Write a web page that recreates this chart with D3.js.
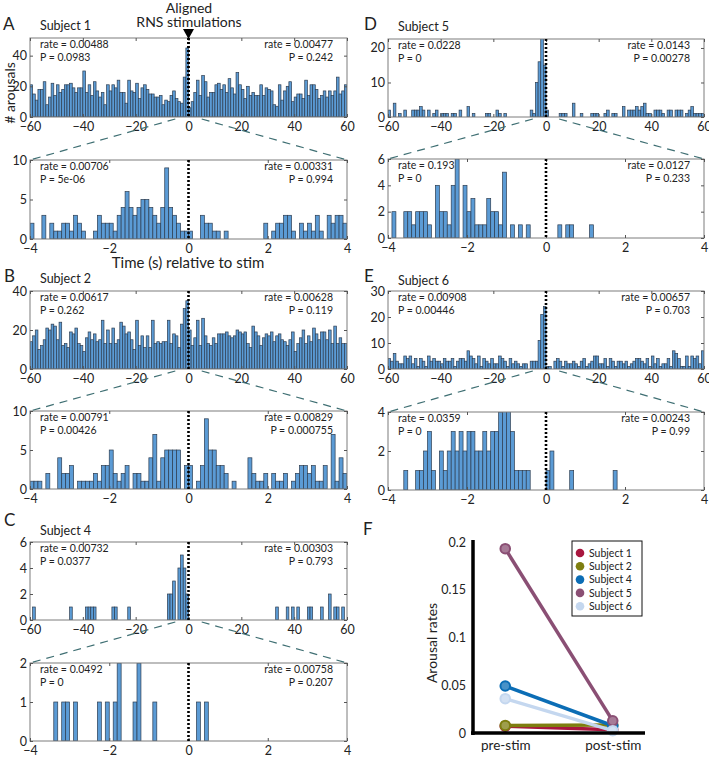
<!DOCTYPE html>
<html><head><meta charset="utf-8">
<script src="https://cdn.jsdelivr.net/npm/d3@7"></script>
<style>
body{margin:0;background:#fff}
text{font-family:Lato,"Open Sans",sans-serif;fill:#222}
</style>
</head><body>
<svg id="c" width="709" height="757"></svg>
<script>
// ---------- DATA ----------
const coarseTicks = [-60,-40,-20,0,20,40,60];
const fineTicks = [-4,-2,0,2,4];
const subjects = ["Subject 1","Subject 2","Subject 4","Subject 5","Subject 6"];
const subjectColors = ["#a8163e","#7e7e10","#0b6db5","#8a4f74","#c4d7ef"];

// counts per 1-s bin from -60 to 60 s (120 bins)
const s1Coarse = [21,15,11,18,18,23,8,13,22,14, 21,16,18,21,21,22,19,16,19,19, 30,16,21,14,23,17,13,16,8,21, 17,21,19,24,16,16,9,24,17,16, 22,12,19,21,18,15,15,13,13,14, 8,11,10,14,17,12,10,9,26,45, 6,10,16,24,14,27,23,13,16,16, 21,22,18,21,16,25,19,15,29,21, 18,12,20,14,16,14,14,21,14,19, 18,17,8,7,21,11,17,20,23,10, 13,15,15,12,24,14,21,21,18,12, 14,17,13,17,14,17,26,15,17,21];
const s2Coarse = [14,17,20,10,12,15,21,20,23,22, 15,24,12,13,11,19,18,21,13,12, 9,16,19,15,18,14,15,25,13,20, 13,21,13,15,24,22,18,19,15,10, 25,12,17,11,17,11,25,13,14,13, 14,14,25,13,18,17,11,23,31,35, 20,12,16,25,12,26,17,13,12,16, 13,18,18,18,19,17,16,17,20,19, 18,19,13,11,22,19,17,12,16,18, 17,19,14,17,18,15,14,12,15,19, 9,13,16,20,13,17,14,21,18,15, 19,19,15,20,13,22,13,16,13,13];
const s4Coarse = [0,1,0,0,0,0,0,0,0,0, 0,0,0,0,0,1,0,0,0,0, 0,1,1,1,1,0,0,0,0,0, 0,1,1,0,0,0,0,1,0,0, 0,0,0,0,0,0,0,0,0,0, 0,0,2,2,3,0,4,5,4,2, 0,0,0,0,0,0,0,0,0,0, 0,0,0,0,0,0,0,0,0,0, 0,0,0,0,0,0,0,0,0,0, 0,0,0,1,0,0,0,1,0,1, 0,1,0,0,0,1,1,0,0,0, 1,0,0,2,0,1,1,0,1,0];
const s5Coarse = [2,0,4,0,1,0,2,0,0,2, 2,2,3,2,0,2,0,1,2,0, 1,1,1,0,1,1,0,2,0,0, 3,0,1,0,0,0,0,1,1,0, 0,2,1,0,1,0,0,0,0,0, 0,0,0,0,2,1,10,16,25,15, 2,0,0,0,0,1,1,1,0,0, 4,0,0,1,0,0,0,1,1,1, 0,0,1,2,0,1,1,0,0,3, 0,2,2,2,3,2,3,4,1,1, 0,2,2,2,1,0,2,2,0,2, 2,2,0,1,2,3,1,1,1,1];
const s6Coarse = [4,3,6,3,2,2,5,4,5,2, 4,1,4,3,1,5,3,4,3,3, 2,4,3,3,4,1,3,4,4,3, 7,5,4,2,5,1,4,3,2,4, 2,2,5,4,3,1,4,2,3,2, 1,2,2,0,3,3,3,11,21,24, 1,1,0,3,4,3,1,3,2,2, 3,2,1,3,4,1,2,3,5,5, 2,2,4,1,4,3,1,3,3,2, 3,1,2,3,4,4,3,2,4,1, 5,2,4,1,2,2,4,1,7,6, 4,1,1,5,1,5,4,5,2,7];

// counts per 0.1-s bin from -4 to 4 s (80 bins)
const s1Fine = [2,0,0,3,0,2,1,1,2,2, 1,3,2,1,0,0,1,3,2,2, 2,1,3,4,6,4,3,4,5,5, 4,3,2,4,9,4,3,2,1,1, 1,0,0,3,2,2,1,1,0,1, 0,0,0,0,0,0,0,0,0,2, 0,1,2,2,3,3,1,0,2,1, 2,1,3,1,0,3,2,3,3,2];
const s2Fine = [1,1,1,0,2,0,0,4,2,2, 3,0,1,1,1,1,2,1,3,3, 5,2,1,2,3,0,2,2,1,1, 4,7,1,4,5,5,5,5,0,3, 3,0,1,3,9,5,5,3,3,2, 0,1,0,0,0,4,2,1,1,2, 0,2,1,1,2,0,1,2,3,3, 2,3,1,1,3,0,7,1,4,2];
const s4Fine = [0,0,0,0,0,0,1,0,1,1, 0,1,0,0,0,0,0,1,0,1, 0,1,2,0,0,0,1,2,0,0, 0,1,0,0,0,0,0,0,0,0, 0,0,1,0,1,0,0,0,0,0, 0,0,0,0,0,0,0,0,0,0, 0,0,0,0,0,0,0,0,0,0, 0,0,0,0,0,0,0,0,0,0];
const s5Fine = [0,2,0,0,2,2,1,2,2,2, 1,0,4,2,2,1,4,6,0,4, 2,3,1,1,1,3,2,2,1,5, 0,1,0,1,0,1,0,0,0,0, 0,0,0,1,0,1,1,0,0,0, 0,1,0,0,0,0,0,0,0,0, 0,0,0,0,0,0,0,0,0,0, 0,0,0,0,0,0,0,0,0,0];
const s6Fine = [0,0,0,0,1,0,0,1,1,2, 3,1,0,2,1,2,3,2,3,2, 3,3,2,2,3,2,3,3,4,5, 5,3,1,1,1,1,0,0,0,0, 1,2,0,0,0,0,1,0,0,0, 0,0,0,0,0,0,0,1,0,0, 0,0,0,0,0,0,0,0,0,0, 0,0,0,0,0,0,0,0,0,0];

// stats texts [pre rate, pre P, post rate, post P]
const s1CoarseStats = ["rate = 0.00488","P = 0.0983","rate = 0.00477","P = 0.242"];
const s1FineStats = ["rate = 0.00706","P = 5e-06","rate = 0.00331","P = 0.994"];
const s2CoarseStats = ["rate = 0.00617","P = 0.262","rate = 0.00628","P = 0.119"];
const s2FineStats = ["rate = 0.00791","P = 0.00426","rate = 0.00829","P = 0.000755"];
const s4CoarseStats = ["rate = 0.00732","P = 0.0377","rate = 0.00303","P = 0.793"];
const s4FineStats = ["rate = 0.0492","P = 0","rate = 0.00758","P = 0.207"];
const s5CoarseStats = ["rate = 0.0228","P = 0","rate = 0.0143","P = 0.00278"];
const s5FineStats = ["rate = 0.193","P = 0","rate = 0.0127","P = 0.233"];
const s6CoarseStats = ["rate = 0.00908","P = 0.00446","rate = 0.00657","P = 0.703"];
const s6FineStats = ["rate = 0.0359","P = 0","rate = 0.00243","P = 0.99"];

// panel F
const rateCategories = ["pre-stim","post-stim"];
const preRates = [0.00706,0.00791,0.0492,0.193,0.0359];
const postRates = [0.00331,0.00829,0.00758,0.0127,0.00243];
const rateTicks = [0,0.05,0.1,0.15,0.2];

// ---------- DRAWING ----------
const svg = d3.select("#c");
let clipN = 0;
const barFill = "#5b9bd5", barStroke = "#2d3d50";

function hist(counts, xDomain, binW, xTicks, yMax, yTicks, box, stats) {
  const g = svg.append("g");
  const x = d3.scaleLinear().domain(xDomain).range([box.x0, box.x1]);
  const y = d3.scaleLinear().domain([0, yMax]).range([box.b, box.t]);
  const id = "clip" + (clipN++);
  g.append("clipPath").attr("id", id).append("rect")
    .attr("x", box.x0).attr("y", box.t).attr("width", box.x1 - box.x0).attr("height", box.b - box.t);
  const bins = counts.map((c, i) => ({c, s: xDomain[0] + i * binW})).filter(d => d.c > 0);
  g.append("g").attr("clip-path", `url(#${id})`).selectAll("rect").data(bins).join("rect")
    .attr("x", d => x(d.s)).attr("width", d => x(d.s + binW) - x(d.s))
    .attr("y", d => y(d.c)).attr("height", d => y(0) - y(d.c))
    .attr("fill", barFill).attr("stroke", barStroke).attr("stroke-width", 0.7);
  g.append("rect").attr("x", box.x0).attr("y", box.t).attr("width", box.x1 - box.x0).attr("height", box.b - box.t)
    .attr("fill", "none").attr("stroke", "#7d7d7d").attr("stroke-width", 1);
  const ax = g.append("g").attr("transform", `translate(0,${box.b})`)
    .call(d3.axisBottom(x).tickValues(xTicks).tickSizeInner(-3).tickSizeOuter(0).tickPadding(5).tickFormat(d3.format("d")));
  const ax2 = g.append("g").attr("transform", `translate(0,${box.t})`)
    .call(d3.axisTop(x).tickValues(xTicks).tickSizeInner(-3).tickSizeOuter(0).tickFormat(""));
  const ay = g.append("g").attr("transform", `translate(${box.x0},0)`)
    .call(d3.axisLeft(y).tickValues(yTicks).tickSizeInner(-3).tickSizeOuter(0).tickPadding(3).tickFormat(d3.format("d")));
  const ay2 = g.append("g").attr("transform", `translate(${box.x1},0)`)
    .call(d3.axisRight(y).tickValues(yTicks).tickSizeInner(-3).tickSizeOuter(0).tickFormat(""));
  [ax, ax2, ay, ay2].forEach(a => {
    a.select(".domain").remove();
    a.attr("font-family", null).attr("font-size", null).attr("color", "#555");
    a.selectAll("text").attr("font-size", 12.5).style("fill", "#222");
  });
  g.append("line").attr("x1", x(0)).attr("x2", x(0)).attr("y1", box.t).attr("y2", box.b)
    .attr("stroke", "#000").attr("stroke-width", 2.6).attr("stroke-dasharray", "2,2");
  const st = g.append("g").attr("font-size", 10.5);
  st.append("text").attr("x", box.x0 + 10).attr("y", box.t + 10).text(stats[0]);
  st.append("text").attr("x", box.x0 + 10).attr("y", box.t + 23).text(stats[1]);
  st.append("text").attr("x", box.x1 - 14).attr("y", box.t + 10).attr("text-anchor", "end").text(stats[2]);
  st.append("text").attr("x", box.x1 - 14).attr("y", box.t + 23).attr("text-anchor", "end").text(stats[3]);
  return x;
}

function pair(letter, subject, coarse, cStats, cMax, cTicks, fine, fStats, fMax, fTicks, cBox, fBox, lx, ly, sy) {
  const xc = hist(coarse, [-60, 60], 1, coarseTicks, cMax, cTicks, cBox, cStats);
  hist(fine, [-4, 4], 0.1, fineTicks, fMax, fTicks, fBox, fStats);
  svg.append("text").attr("x", lx).attr("y", ly).attr("font-size", 17).text(letter);
  svg.append("text").attr("x", cBox.x0 + 10).attr("y", sy).attr("font-size", 12.5).text(subject);
  const dash = svg.append("g").attr("stroke", "#3f6f73").attr("stroke-width", 1.2).attr("stroke-dasharray", "8,6").attr("fill", "none");
  dash.append("line").attr("x1", xc(-5)).attr("y1", cBox.b + 2).attr("x2", fBox.x0).attr("y2", fBox.t);
  dash.append("line").attr("x1", xc(5)).attr("y1", cBox.b + 2).attr("x2", fBox.x1).attr("y2", fBox.t);
}

const L = {x0: 30, x1: 347}, R = {x0: 388, x1: 704};
pair("A", subjects[0], s1Coarse, s1CoarseStats, 51.5, [0,20,40], s1Fine, s1FineStats, 10, [0,5,10],
  {...L, t: 38, b: 117}, {...L, t: 160, b: 239}, 3, 30, 30);
pair("B", subjects[1], s2Coarse, s2CoarseStats, 40, [0,20,40], s2Fine, s2FineStats, 10, [0,5,10],
  {...L, t: 291, b: 369}, {...L, t: 411, b: 489}, 4, 282, 283);
pair("C", subjects[2], s4Coarse, s4CoarseStats, 6, [0,2,4,6], s4Fine, s4FineStats, 2, [0,1,2],
  {...L, t: 542, b: 620}, {...L, t: 663, b: 741}, 4, 526, 535);
pair("D", subjects[3], s5Coarse, s5CoarseStats, 22.6, [0,10,20], s5Fine, s5FineStats, 6, [0,2,4,6],
  {...R, t: 39, b: 117}, {...R, t: 159, b: 238}, 364, 30, 31);
pair("E", subjects[4], s6Coarse, s6CoarseStats, 30, [0,10,20,30], s6Fine, s6FineStats, 4, [0,2,4],
  {...R, t: 291, b: 369}, {...R, t: 412, b: 490}, 364, 282, 285);

svg.append("text").attr("x", 189).attr("y", 13).attr("text-anchor", "middle").attr("font-size", 14).text("Aligned");
svg.append("text").attr("x", 189).attr("y", 27).attr("text-anchor", "middle").attr("font-size", 14).text("RNS stimulations");
svg.append("path").attr("d", "M183,29 L194,29 L188.5,39 Z").attr("fill", "#000");
svg.append("line").attr("x1", 188.5).attr("x2", 188.5).attr("y1", 38).attr("y2", 117)
  .attr("stroke", "#000").attr("stroke-width", 2.6).attr("stroke-dasharray", "2,2");
svg.append("text").attr("transform", "translate(15,93) rotate(-90)").attr("text-anchor", "middle").attr("font-size", 14).text("# arousals");
svg.append("text").attr("x", 188).attr("y", 268).attr("text-anchor", "middle").attr("font-size", 15).text("Time (s) relative to stim");

// ---------- Panel F ----------
svg.append("text").attr("x", 363).attr("y", 535).attr("font-size", 17).text("F");
const fx = d3.scaleLinear().domain([0.7, 2.3]).range([473, 645]);
const fy = d3.scaleLinear().domain([0, 0.2]).range([733, 542]);
const fyAxis = svg.append("g").attr("transform", "translate(473,0)")
  .call(d3.axisLeft(fy).tickValues(rateTicks).tickSizeInner(0).tickSizeOuter(0).tickPadding(7).tickFormat(d => String(d)));
fyAxis.select(".domain").remove();
fyAxis.attr("font-family", null).attr("font-size", null);
fyAxis.selectAll("text").attr("font-size", 12.5).style("fill", "#222");
const fxAxis = svg.append("g").attr("transform", "translate(0,733)")
  .call(d3.axisBottom(fx).tickValues([1, 2]).tickSizeInner(0).tickSizeOuter(0).tickPadding(7).tickFormat((d, i) => rateCategories[i]));
fxAxis.select(".domain").remove();
fxAxis.attr("font-family", null).attr("font-size", null);
fxAxis.selectAll("text").attr("font-size", 13.5).style("fill", "#222");
svg.append("text").attr("transform", "translate(437,643) rotate(-90)").attr("text-anchor", "middle").attr("font-size", 14).text("Arousal rates");

const lines = subjects.map((s, i) => ({s, c: subjectColors[i], v: [preRates[i], postRates[i]]}));
const lg = svg.append("g");
lines.forEach(d => {
  lg.append("line").attr("x1", fx(1)).attr("y1", fy(d.v[0])).attr("x2", fx(2)).attr("y2", fy(d.v[1]))
    .attr("stroke", d.c).attr("stroke-width", 3.5);
  d.v.forEach((v, k) => {
    lg.append("circle").attr("cx", fx(k + 1)).attr("cy", fy(v)).attr("r", 4.8)
      .attr("fill", d3.interpolateRgb(d.c, "#fff")(0.25)).attr("stroke", d.c).attr("stroke-width", 2);
  });
});
svg.append("line").attr("x1", 473).attr("x2", 473).attr("y1", 540).attr("y2", 735).attr("stroke", "#000").attr("stroke-width", 3.5);
svg.append("line").attr("x1", 471).attr("x2", 645).attr("y1", 733).attr("y2", 733).attr("stroke", "#000").attr("stroke-width", 3.5);

const leg = svg.append("g");
leg.append("rect").attr("x", 572).attr("y", 541).attr("width", 70).attr("height", 75).attr("fill", "#fff").attr("stroke", "#111").attr("stroke-width", 1);
subjects.forEach((s, i) => {
  const yy = 553 + i * 13.3;
  leg.append("circle").attr("cx", 580).attr("cy", yy).attr("r", 4.3).attr("fill", subjectColors[i]);
  leg.append("text").attr("x", 589).attr("y", yy + 3.8).attr("font-size", 10.5).text(s);
});
</script>
</body></html>
